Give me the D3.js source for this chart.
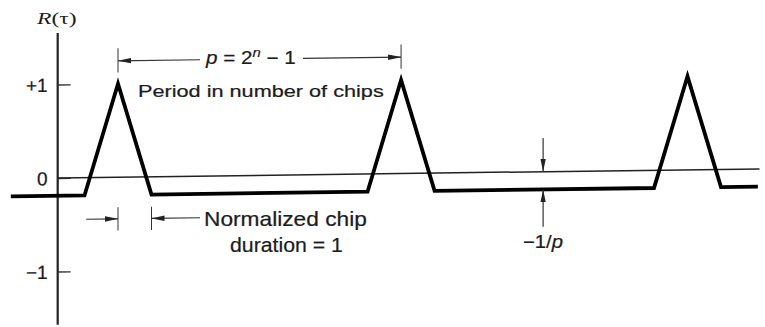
<!DOCTYPE html>
<html>
<head>
<meta charset="utf-8">
<script src="https://cdn.jsdelivr.net/npm/d3@7"></script>
<style>
  html, body { margin: 0; padding: 0; background: #fff; }
  svg { display: block; }
  text { fill: #1c1c1c; stroke: #1c1c1c; stroke-width: 0.22; }
  text.serif { stroke: none; }
</style>
</head>
<body>
<svg id="chart" width="765" height="327"></svg>
<script>
// Autocorrelation R(τ) of a maximal-length PN sequence; τ measured in chips.
const tau = [-3.2, -1, 0, 1, 7.45, 8.45, 9.45, 16, 17, 18, 19.1];
const R   = [-0.19, -0.19, 1, -0.19, -0.19, 1, -0.19, -0.19, 1, -0.19, -0.19];

const offPeak = -0.19;          // level between peaks, −1/p
const periodPeaks = [0, 8.45];  // peaks bracketed by the period marker
const chipEdges = [0, 1];       // one chip, from the peak to the base of the slope
const gapMarkTau = 12.69;       // where the −1/p gap is marked
const zeroLineEnd = 19.15;
const axisTau = -1.8;
const axisRange = [-1.57, 1.55];

const yTickValues = [1, 0, -1];
const yTickLabels = ["+1", "0", "\u22121"];

const svg = d3.select("#chart");

// chip scale: origin at the first peak, 33.5 px per chip
const x = d3.scaleLinear().domain([0, 1]).range([118, 151.5]);
const y = d3.scaleLinear().domain([-1, 1]).range([271.5, 84.5]);

// the drawing leans slightly: horizontal lines rise to the right
const k = 0.013, x0 = x(axisTau);
const plot = svg.append("g")
  .attr("transform", `matrix(1,${-k},0,1,0,${k * x0})`);

// arrowhead
svg.append("defs").append("marker")
  .attr("id", "ah")
  .attr("viewBox", "0 0 13 6")
  .attr("refX", 13).attr("refY", 3)
  .attr("markerWidth", 13).attr("markerHeight", 6)
  .attr("markerUnits", "userSpaceOnUse")
  .attr("orient", "auto")
  .append("path").attr("d", "M0,0.3 L13,3 L0,5.7 Z").attr("fill", "#222");

// vertical axis
plot.append("line")
  .attr("x1", x(axisTau)).attr("x2", x(axisTau))
  .attr("y1", y(axisRange[1])).attr("y2", y(axisRange[0]))
  .attr("stroke", "#222").attr("stroke-width", 2.2);

// ticks to the inside, labels on the left
const yAxis = d3.axisLeft(y)
  .tickValues(yTickValues)
  .tickFormat((d, i) => yTickLabels[i])
  .tickSizeInner(-13).tickSizeOuter(0).tickPadding(10);
const ag = plot.append("g").attr("transform", `translate(${x(axisTau)},0)`).call(yAxis);
ag.select(".domain").remove();
ag.selectAll(".tick line").attr("stroke", "#333").attr("stroke-width", 1.3);
ag.selectAll(".tick text")
  .attr("font-family", "'Liberation Sans', Arial, sans-serif")
  .attr("font-size", 19).attr("fill", "#1c1c1c")
  .attr("dy", "0.36em");

// zero line
plot.append("line")
  .attr("x1", x(axisTau)).attr("x2", x(zeroLineEnd))
  .attr("y1", y(0)).attr("y2", y(0))
  .attr("stroke", "#222").attr("stroke-width", 1.5);

// R(τ)
const pts = tau.map((t, i) => [t, R[i]]);
plot.append("path")
  .datum(pts)
  .attr("d", d3.line().x(d => x(d[0])).y(d => y(d[1])))
  .attr("fill", "none").attr("stroke", "#000")
  .attr("stroke-width", 3.8).attr("stroke-linejoin", "miter");

// helpers for the annotation marks
function seg(t1, r1, t2, r2, arrow) {
  const l = plot.append("line")
    .attr("x1", x(t1)).attr("y1", y(r1)).attr("x2", x(t2)).attr("y2", y(r2))
    .attr("stroke", "#333").attr("stroke-width", 1.2);
  if (arrow) l.attr("marker-end", "url(#ah)");
  return l;
}

// period marker
const pLev = 1.245;
periodPeaks.forEach(t => seg(t, 1.12, t, 1.38, false).attr("stroke-width", 1));
seg(2.45, pLev, periodPeaks[0], pLev, true);
seg(5.52, pLev, periodPeaks[1], pLev, true);

// chip-duration marker
const cLev = -0.445;
chipEdges.forEach(t => seg(t, -0.32, t, -0.57, false).attr("stroke-width", 1));
seg(-0.95, cLev, chipEdges[0], cLev, true);
seg(2.45, cLev, chipEdges[1], cLev, true);

// −1/p gap marker
seg(gapMarkTau, 0.36, gapMarkTau, 0, true);
seg(gapMarkTau, -0.59, gapMarkTau, offPeak, true);

// text, stretched to its set width
const sans = "'Liberation Sans', Arial, Helvetica, sans-serif";
const serif = "'Liberation Serif', 'Times New Roman', serif";
function label(parts, left, baseline, width, size, family) {
  const g = svg.append("g");
  const t = g.append("text").attr("font-family", family).attr("font-size", size)
    .classed("serif", family === serif);
  parts.forEach(p => {
    const s = t.append("tspan").text(p.t);
    if (p.i) s.attr("font-style", "italic");
    if (p.sup) s.attr("font-size", size * 0.72).attr("dy", -size * 0.4);
    if (p.down) s.attr("dy", size * 0.4);
  });
  const w = t.node().getBBox().width;
  g.attr("transform", `translate(${left},${baseline}) scale(${width / w},1)`);
}

label([{ t: "R", i: true }, { t: "(τ)" }], 37, 24, 41, 17, serif);
label([{ t: "p", i: true }, { t: " = 2" }, { t: "n", i: true, sup: true }, { t: " \u2212 1", down: true }],
      206, 64, 91, 18, sans);
label([{ t: "Period in number of chips" }], 138, 97, 246, 17, sans);
label([{ t: "Normalized chip" }], 204, 226, 163, 20.5, sans);
label([{ t: "duration = 1" }], 230, 252, 113, 20.5, sans);
label([{ t: "\u22121/" }, { t: "p", i: true }], 523, 248, 40, 18, sans);
</script>
</body>
</html>
